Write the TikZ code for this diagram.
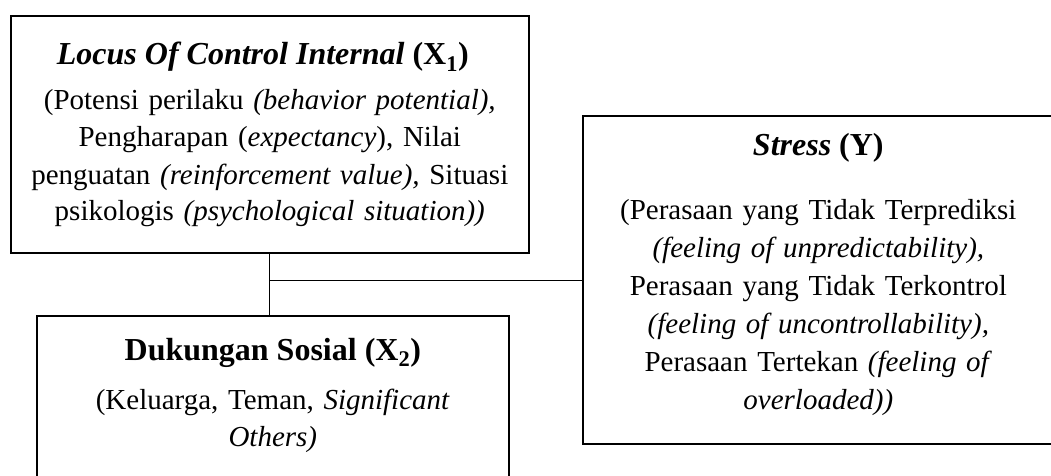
\documentclass[tikz,border=0pt]{standalone}
\usepackage{fontspec}
\setmainfont{Liberation Serif}
\usetikzlibrary{positioning}

\begin{document}
\begin{tikzpicture}[
  x=1pt, y=-1pt,
  box/.style={draw, line width=1.6pt, inner sep=0pt, anchor=north west},
  ttl/.style={font=\fontsize{32}{38}\selectfont\bfseries, anchor=base, inner sep=0pt},
  txt/.style={font=\fontsize{29}{37}\selectfont, align=center, anchor=base,
              text width=#1, inner sep=0pt},
  con/.style={line width=1pt},
]
\useasboundingbox (0,0) rectangle (1051,476);

%% ===== BOXES =====

\node[box, minimum width=518pt, minimum height=237pt] (locus) at (10,15) {};
\node[box, minimum width=472pt, minimum height=240pt] (dukungan) at (36,315) {};
\node[box, minimum width=471pt, minimum height=328pt] (stress) at (582,115) {};

%% ===== TEXTS =====

\node[ttl] (locusT) at ([xshift=-7pt, yshift=-50pt]locus.north)
    {\textit{Locus Of Control Internal} (X\textsubscript{1})};
\node[txt=500pt] (locusB) at ([yshift=-95pt]locus.north)
    {(Potensi perilaku \textit{(behavior potential),}\\
     Pengharapan (\textit{expectancy}), Nilai\\
     penguatan \textit{(reinforcement value),} Situasi\\
     psikologis \textit{(psychological situation))}};

\node[ttl] (dukunganT) at ([yshift=-45pt]dukungan.north)
    {Dukungan Sosial (X\textsubscript{2})};
\node[txt=460pt] (dukunganB) at ([yshift=-94pt]dukungan.north)
    {(Keluarga, Teman, \textit{Significant}\\ \textit{Others)}};

\node[ttl] (stressT) at ([yshift=-40pt]stress.north)
    {\textit{Stress} (Y)};
\node[txt=460pt, font=\fontsize{29}{38}\selectfont] (stressB) at ([yshift=-104pt]stress.north)
    {(Perasaan yang Tidak Terprediksi\\
     \textit{(feeling of unpredictability),}\\
     Perasaan yang Tidak Terkontrol\\
     \textit{(feeling of uncontrollability),}\\
     Perasaan Tertekan \textit{(feeling of}\\
     \textit{overloaded))}};

%% ===== CONNECTORS =====

\coordinate (jn) at (locus.south |- 0,280);
\draw[con] (locus.south) -- (locus.south |- dukungan.north);
\draw[con] (jn) -- (jn -| stress.west);

\end{tikzpicture}
\end{document}
